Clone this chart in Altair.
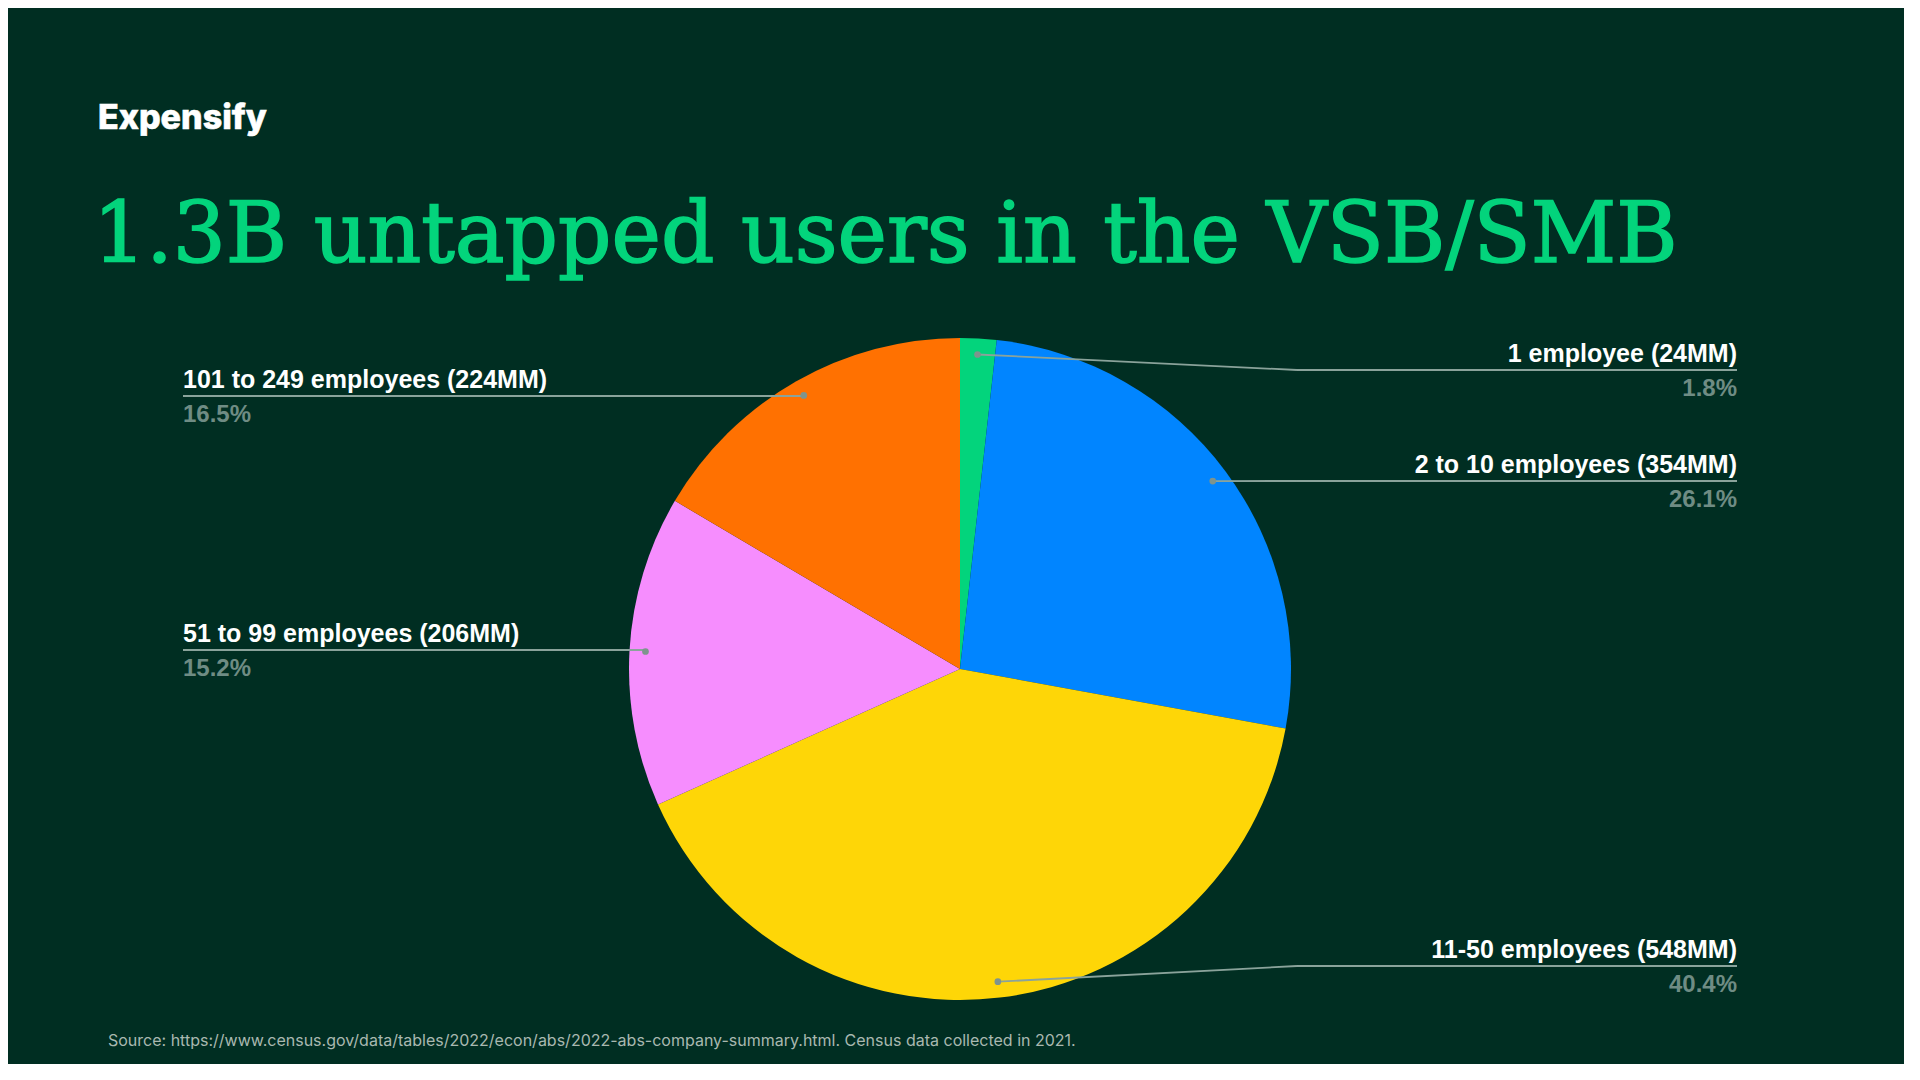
import altair as alt
import pandas as pd

# ---- data ----
categories = ["1 employee", "2 to 10 employees", "11-50 employees", "51 to 99 employees", "101 to 249 employees"]
values_mm = [24, 354, 548, 206, 224]
slice_colors = ["#03D47C", "#0185FF", "#FED607", "#F68DFE", "#FF7101"]

# ---- label layout (positions, not data) ----
label_side = ["right", "right", "right", "left", "left"]
label_line_y = [362, 473, 958, 642, 388]

TITLE = "1.3B untapped users in the VSB/SMB"
LOGO = "Expensify"
SOURCE = "Source: https://www.census.gov/data/tables/2022/econ/abs/2022-abs-company-summary.html. Census data collected in 2021."

W, H = 1896, 1056
CX, CY, R, RDOT = 952, 661, 331, 315
LEFT_X, RIGHT_X, ELBOW_X = 175, 1729, 1289
BG = "#002E22"
LINE_COLOR = "#8AA39B"
PCT_COLOR = "#6F8C84"

df = pd.DataFrame({
    "category": categories,
    "value": values_mm,
    "order": list(range(len(categories))),
    "side": label_side,
    "line_y": label_line_y,
})

xs = alt.Scale(domain=[0, W], range=[0, W])
ys = alt.Scale(domain=[0, H], range=[0, H])

base = (
    alt.Chart(df)
    .transform_joinaggregate(total="sum(value)")
    .transform_window(cum="sum(value)", sort=[alt.SortField("order", order="ascending")], frame=[None, 0])
    .transform_calculate(
        mid="(datum.cum - datum.value / 2) / datum.total * 2 * PI",
    )
    .transform_calculate(
        dot_x=f"{CX} + {RDOT} * sin(datum.mid)",
        dot_y=f"{CY} - {RDOT} * cos(datum.mid)",
        elbow_x=f"datum.side == 'left' ? {CX} + {RDOT} * sin(datum.mid) : {ELBOW_X}",
        end_x=f"datum.side == 'left' ? {LEFT_X} : {RIGHT_X}",
        name="datum.category + ' (' + datum.value + 'MM)'",
        pct="format(datum.value / datum.total, '.1%')",
    )
)

pie = alt.Chart(df).mark_arc(radius=R, strokeWidth=0).encode(
    theta=alt.Theta("value:Q", stack=True),
    color=alt.Color("category:N", scale=alt.Scale(domain=categories, range=slice_colors), legend=None),
    order=alt.Order("order:Q"),
    x=alt.value(CX),
    y=alt.value(CY),
)

seg1 = base.mark_rule(color=LINE_COLOR, strokeWidth=1.8).encode(
    x=alt.X("dot_x:Q", scale=xs, axis=None),
    y=alt.Y("dot_y:Q", scale=ys, axis=None),
    x2="elbow_x:Q",
    y2="line_y:Q",
)
seg2 = base.mark_rule(color=LINE_COLOR, strokeWidth=1.8).encode(
    x=alt.X("elbow_x:Q", scale=xs, axis=None),
    y=alt.Y("line_y:Q", scale=ys, axis=None),
    x2="end_x:Q",
    y2="line_y:Q",
)
dots = base.mark_circle(size=45, color="#7E948D", opacity=1).encode(
    x=alt.X("dot_x:Q", scale=xs, axis=None),
    y=alt.Y("dot_y:Q", scale=ys, axis=None),
)

def label_layers(side, align):
    b = base.transform_filter(f"datum.side == '{side}'")
    names = b.mark_text(align=align, baseline="alphabetic", dy=-8, font="Liberation Sans",
                        fontSize=25, fontWeight="bold", color="#FFFFFF").encode(
        x=alt.X("end_x:Q", scale=xs, axis=None),
        y=alt.Y("line_y:Q", scale=ys, axis=None),
        text="name:N",
    )
    pcts = b.mark_text(align=align, baseline="alphabetic", dy=26, font="Liberation Sans",
                       fontSize=24, fontWeight="bold", color=PCT_COLOR).encode(
        x=alt.X("end_x:Q", scale=xs, axis=None),
        y=alt.Y("line_y:Q", scale=ys, axis=None),
        text="pct:N",
    )
    return names + pcts

one = pd.DataFrame({"t": [0]})
logo = alt.Chart(one).mark_text(align="left", baseline="alphabetic", font="Inter", fontSize=34,
                                fontWeight=800, color="#FFFFFF", text=LOGO, stroke="#FFFFFF",
                                strokeWidth=0.6).encode(
    x=alt.value(90), y=alt.value(121))
title = alt.Chart(one).mark_text(align="left", baseline="alphabetic", font="DejaVu Serif", fontSize=83.5,
                                 color="#03D47C", text=TITLE, stroke="#03D47C",
                                 strokeWidth=1.6).encode(
    x=alt.value(85), y=alt.value(254))
source = alt.Chart(one).mark_text(align="left", baseline="alphabetic", font="Inter", fontSize=16,
                                  color="#A9B8B0", text=SOURCE).encode(
    x=alt.value(100), y=alt.value(1038))

chart = alt.layer(
    pie, seg1, seg2, dots,
    label_layers("left", "left"), label_layers("right", "right"),
    logo, title, source,
).properties(
    width=W, height=H, autosize=alt.AutoSizeParams(type="none"), padding=0,
).configure(background=BG).configure_view(stroke=None)

chart.save("out.html", embed_options={"renderer": "svg", "actions": False})
